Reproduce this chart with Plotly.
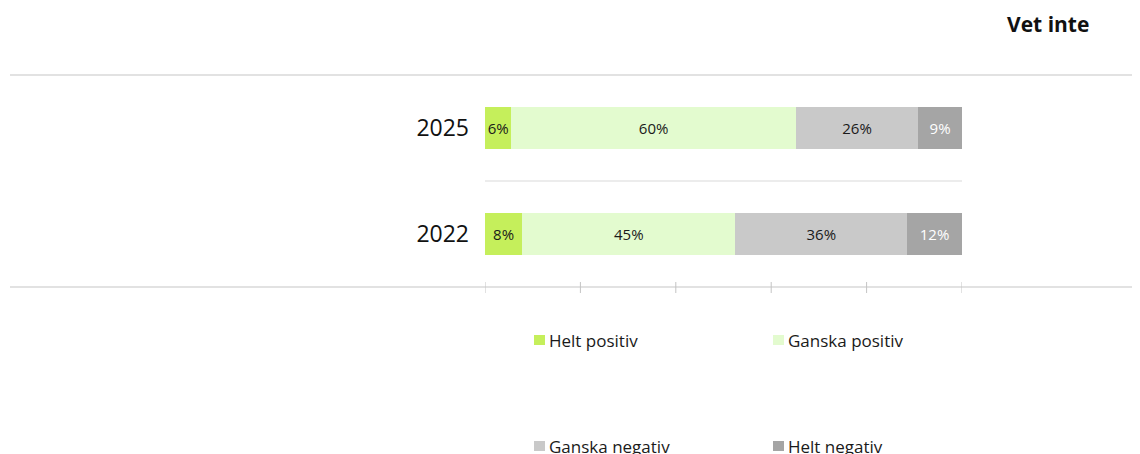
import plotly.graph_objects as go

years = ["2022", "2025"]
categories = ["Helt positiv", "Ganska positiv", "Ganska negativ", "Helt negativ"]
# share of those with an opinion (bar widths), per category, in order of years
values = {
    "Helt positiv":   [7.8, 5.5],
    "Ganska positiv": [44.7, 59.7],
    "Ganska negativ": [36.0, 25.6],
    "Helt negativ":   [11.5, 9.2],
}
vet_inte = [6, 7]
tick_vals = [0, 20, 40, 60, 80, 100]

colors = ["#c5ef5b", "#e3fbcf", "#c9c9c9", "#a5a5a5"]
text_colors = ["#1a1a1a", "#1a1a1a", "#1a1a1a", "#ffffff"]

W, H = 1140, 454
OFF = 8  # page body margin
FONT = "Open Sans"

def px_y(py):
    return (H - (py - OFF)) / H

def px_x(px):
    return (px - OFF) / W

fig = go.Figure()
for cat, col, tcol in zip(categories, colors, text_colors):
    fig.add_trace(go.Bar(
        y=years, x=values[cat], orientation="h", name=cat,
        marker=dict(color=col, line=dict(width=0)),
        width=0.4,
        texttemplate="%{x:.0f}%", textposition="inside", textangle=0,
        insidetextanchor="middle", constraintext="none",
        textfont=dict(family=FONT, size=15, color=tcol),
        showlegend=False, hoverinfo="skip",
    ))

fig.update_layout(
    width=W, height=H, barmode="stack",
    margin=dict(l=0, r=0, t=0, b=0),
    paper_bgcolor="white", plot_bgcolor="white",
    font=dict(family=FONT, color="#1a1a1a"),
    uniformtext=dict(minsize=15, mode="show"),
    xaxis=dict(domain=[px_x(485), px_x(962)], range=[0, 100],
               showgrid=False, zeroline=False, showline=False,
               showticklabels=False, ticks=""),
    yaxis=dict(domain=[px_y(287), px_y(75)], range=[-0.5, 1.5],
               type="category", categoryorder="array", categoryarray=years,
               showgrid=False, zeroline=False, showline=False, ticks="",
               tickfont=dict(family=FONT, size=23, color="#111111"),
               ticklabelstandoff=15),
)

shapes = []
# top and bottom rules
for py in (75, 287):
    shapes.append(dict(type="line", xref="paper", yref="paper",
                       x0=px_x(10), x1=1.0, y0=px_y(py), y1=px_y(py),
                       line=dict(color="#e2e2e2", width=2)))
# separator between rows
shapes.append(dict(type="line", xref="x", yref="y", x0=0, x1=100, y0=0.5, y1=0.5,
                   line=dict(color="#e6e6e6", width=1.5)))
# axis ticks
for tv in tick_vals:
    shapes.append(dict(type="line", xref="x", yref="paper", x0=tv, x1=tv,
                       y0=px_y(293), y1=px_y(282),
                       line=dict(color="#c4c4c4", width=1)))

annotations = []
annotations.append(dict(text="<b>Vet inte</b>", xref="paper", yref="paper",
                        x=px_x(1048), y=px_y(24), showarrow=False,
                        font=dict(family=FONT, size=21, color="#111111"),
                        xanchor="center", yanchor="middle"))
for yr, v in zip(years, vet_inte):
    annotations.append(dict(text=f"{v}%", xref="paper", yref="y",
                            x=px_x(1136), y=yr, showarrow=False,
                            font=dict(family=FONT, size=21, color="#111111"),
                            xanchor="right", yanchor="middle"))

# legend (2x2 grid)
legend_pos = [(534, 340), (773, 340), (534, 446), (773, 446)]
for cat, col, (lx, ly) in zip(categories, colors, legend_pos):
    shapes.append(dict(type="rect", xref="paper", yref="paper",
                       x0=px_x(lx), x1=px_x(lx + 11), y0=px_y(ly + 5), y1=px_y(ly - 5),
                       fillcolor=col, line=dict(width=0)))
    annotations.append(dict(text=cat, xref="paper", yref="paper",
                            x=px_x(lx + 13), y=px_y(ly), showarrow=False,
                            font=dict(family=FONT, size=17, color="#1a1a1a"),
                            xanchor="left", yanchor="middle"))

fig.update_layout(shapes=shapes, annotations=annotations)
fig.write_html("out.html")
